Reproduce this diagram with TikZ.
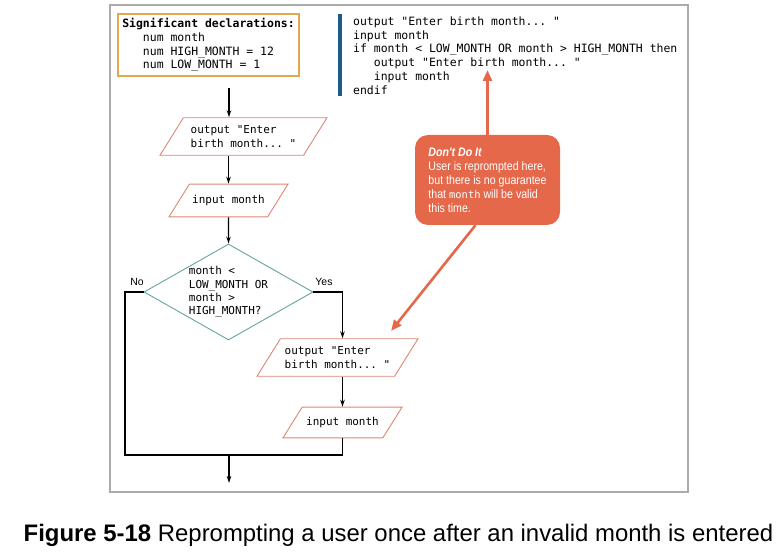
\documentclass[tikz,border=0pt]{standalone}
\usepackage{fontspec}
\setmainfont{Liberation Sans}
\setmonofont{DejaVu Sans Mono}
\newfontfamily\calloutfont[FakeStretch=0.86]{Liberation Sans}
\usepackage{xcolor}
\usetikzlibrary{arrows.meta, shapes.geometric}

\definecolor{framegray}{HTML}{ABABAB}
\definecolor{declline}{HTML}{E2A84E}
\definecolor{paraline}{HTML}{DE8473}
\definecolor{diamline}{HTML}{66A3A0}
\definecolor{codebar}{HTML}{1D5C87}
\definecolor{warnfill}{HTML}{E5684B}

\begin{document}
\begin{tikzpicture}[
		x=1bp, y=-1bp,
		decl/.style={rectangle, draw=declline, line width=1.3bp, minimum width=181bp, minimum height=62bp, align=left, inner sep=0pt, font=\ttfamily\fontsize{11.5}{13.7}\selectfont},
		code/.style={anchor=north west, align=left, inner sep=0pt, font=\ttfamily\fontsize{11.5}{13.8}\selectfont},
		para/.style={trapezium, trapezium left angle=58, trapezium right angle=122, trapezium stretches body, draw=paraline, line width=0.9bp, align=left, inner xsep=0pt, inner ysep=8bp, font=\ttfamily\fontsize{11}{13.4}\selectfont},
		oneline/.style={inner ysep=11bp},
		decision/.style={diamond, aspect=1.76, draw=diamline, line width=0.9bp, minimum width=169bp, minimum height=96bp, align=left, inner sep=0pt, font=\ttfamily\fontsize{11}{13.4}\selectfont},
		warn/.style={rectangle, rounded corners=13bp, fill=warnfill, text=white, minimum width=145bp, minimum height=90bp, align=left, inner sep=0pt, font=\calloutfont\fontsize{12.4}{14}\selectfont},
		arrow/.style={-{Stealth[length=7bp, width=4.5bp]}, line width=1.1bp},
		link/.style={line width=1.1bp},
		warnarrow/.style={-{Triangle[length=11bp, width=9bp]}, line width=2.6bp, draw=warnfill},
		branch/.style={font=\fontsize{10.5}{12}\selectfont}
		]

		\useasboundingbox (0,0) rectangle (780,556);

		% panel
		\draw[framegray, line width=1.3bp] (110,5) rectangle (688,492);

		% declarations and pseudocode
		\node[decl] (decl) at (208.5,45) {\textbf{Significant declarations:}\\
			\phantom{xxx}num month\\
			\phantom{xxx}num HIGH\_MONTH = 12\\
			\phantom{xxx}num LOW\_MONTH = 1};

		\node[code] (code) at (353,16.5) {output "Enter birth month... "\\
			input month\\
			if month < LOW\_MONTH OR month > HIGH\_MONTH then\\
			\phantom{xxx}output "Enter birth month... "\\
			\phantom{xxx}input month\\
			endif};
		\draw[codebar, line width=4bp] (340,14) -- (340,96);

		% flowchart
		\node[para, minimum width=167bp] (out1) at (243.5,136.5) {output "Enter\\birth month... "};
		\node[para, oneline, minimum width=119bp] (in1) at (228.5,200.5) {input month};
		\node[decision] (dia) at (228.5,292) {month <\\LOW\_MONTH OR\\month >\\HIGH\_MONTH?};
		\node[para, minimum width=161bp] (out2) at (337.5,357.5) {output "Enter\\birth month... "};
		\node[para, oneline, inner ysep=10bp, minimum width=119bp] (in2) at (342.5,422.5) {input month};

		\node[branch] (no) at (137,282) {No};
		\node[branch] (yes) at (324,282) {Yes};

		\coordinate (start) at (229,88);
		\coordinate (noleft) at (125,455);
		\coordinate (finish) at (229,483);

		\draw[arrow] (start) -- (start |- out1.north);
		\draw[arrow] (out1.south -| in1.north) -- (in1.north);
		\draw[arrow] (in1.south) -- (dia.north);
		\draw[arrow] (dia.east) -| (out2.north -| in2.north);
		\draw[arrow] (out2.south -| in2.north) -- (in2.north);
		\draw[link] (dia.west) -| (noleft) -- (noleft -| in2.south) -- (in2.south);
		\draw[arrow] (noleft -| finish) -- (finish);

		% callout
		\node[warn] (warn) at (487.5,180) {\textbf{\textit{Don't Do It}}\\
			User is reprompted here,\\
			but there is no guarantee\\
			that {\ttfamily\fontsize{10.5}{14}\selectfont month} will be valid\\
			this time.};
		\coordinate (tipup) at (487.5,70);
		\coordinate (tipdown) at (391,331);
		\draw[warnarrow] (warn.north) -- (warn.north |- tipup);
		\draw[warnarrow] ([xshift=-12bp]warn.south) -- (tipdown);

		% caption
		\node[font=\fontsize{24}{28}\selectfont] (caption) at (398.5,535) {\textbf{Figure 5-18} Reprompting a user once after an invalid month is entered};
	\end{tikzpicture}
\end{document}
